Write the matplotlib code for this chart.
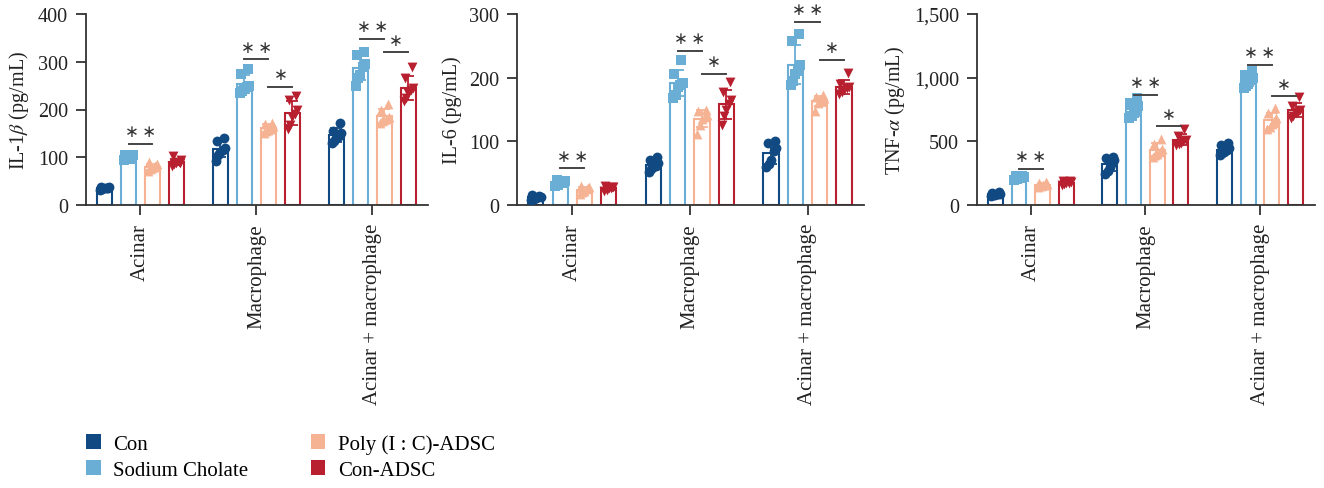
import numpy as np
import matplotlib
matplotlib.use("Agg")
import matplotlib.pyplot as plt
from matplotlib.patches import Patch
from matplotlib.ticker import FuncFormatter

plt.rcParams['font.family'] = ['Liberation Serif', 'DejaVu Sans']
plt.rcParams['mathtext.fontset'] = 'stix'

groups = ["Acinar", "Macrophage", "Acinar + macrophage"]
treatments = ["Con", "Sodium Cholate", "Poly (I : C)-ADSC", "Con-ADSC"]

# IL-1beta, points per group (rows: Acinar, Macrophage, Acinar + macrophage)
il1b_con = [[32, 34, 35, 36, 37, 38, 35],
            [93, 105, 112, 115, 120, 135, 140],
            [130, 135, 140, 145, 150, 155, 172]]
il1b_sc = [[95, 98, 100, 102, 104, 105, 97],
           [235, 238, 242, 248, 250, 275, 285],
           [250, 265, 272, 290, 295, 315, 320]]
il1b_poly = [[72, 75, 78, 82, 85, 90, 80],
             [150, 155, 158, 160, 165, 170, 172],
             [172, 175, 178, 180, 185, 200, 212]]
il1b_adsc = [[82, 85, 88, 90, 95, 103, 87],
             [160, 168, 185, 190, 200, 220, 228],
             [218, 225, 235, 240, 245, 265, 290]]

# IL-6
il6_con = [[8, 10, 11, 12, 13, 15, 14],
           [52, 56, 60, 62, 66, 70, 75],
           [60, 65, 70, 85, 90, 97, 101]]
il6_sc = [[30, 32, 34, 35, 37, 40, 38],
          [168, 172, 185, 188, 192, 205, 228],
          [188, 195, 205, 210, 220, 258, 268]]
il6_poly = [[18, 20, 22, 25, 28, 30, 27],
            [112, 125, 135, 138, 142, 148, 150],
            [148, 160, 163, 165, 168, 170, 172]]
il6_adsc = [[22, 24, 26, 27, 28, 30, 29],
            [125, 140, 150, 158, 165, 178, 193],
            [175, 178, 180, 183, 185, 190, 208]]

# TNF-alpha
tnf_con = [[70, 75, 80, 85, 90, 95, 100],
           [240, 265, 300, 330, 350, 370, 380],
           [390, 405, 420, 430, 445, 470, 490]]
tnf_sc = [[200, 205, 210, 215, 220, 225, 230],
          [680, 700, 720, 750, 780, 800, 840],
          [920, 935, 950, 980, 1000, 1020, 1050]]
tnf_poly = [[140, 150, 155, 160, 165, 170, 180],
            [380, 390, 400, 420, 440, 480, 520],
            [600, 610, 640, 660, 680, 720, 760]]
tnf_adsc = [[160, 165, 170, 175, 180, 185, 190],
            [470, 480, 490, 500, 510, 540, 600],
            [680, 700, 720, 730, 750, 780, 850]]

# significance: (group, left treatment, right treatment, line height, label)
il1b_sig = [(0, 1, 2, 128, "∗\u2009∗"), (1, 1, 2, 305, "∗\u2009∗"), (1, 2, 3, 248, "∗"),
            (2, 1, 2, 348, "∗\u2009∗"), (2, 2, 3, 320, "∗")]
il6_sig = [(0, 1, 2, 58, "∗\u2009∗"), (1, 1, 2, 242, "∗\u2009∗"), (1, 2, 3, 206, "∗"),
           (2, 1, 2, 288, "∗\u2009∗"), (2, 2, 3, 228, "∗")]
tnf_sig = [(0, 1, 2, 283, "∗\u2009∗"), (1, 1, 2, 864, "∗\u2009∗"), (1, 2, 3, 620, "∗"),
           (2, 1, 2, 1100, "∗\u2009∗"), (2, 2, 3, 856, "∗")]

colors = ['#114a82', '#6aaed6', '#f6b394', '#b81f2f']
markers = ['o', 's', '^', 'v']
offsets = [-0.31, -0.103, 0.103, 0.31]
jit = [-0.04, -0.018, 0.0, 0.022, 0.04, -0.03, 0.03]
bar_w = 0.13


def panel(ax, series, sig, ymax, ystep, ylabel, comma=False):
    for k, data in enumerate(series):
        for g in range(3):
            vals = np.array(data[g], dtype=float)
            x = g + offsets[k]
            m = vals.mean()
            sd = vals.std(ddof=1)
            ax.bar(x, m, width=bar_w, facecolor='white', edgecolor=colors[k],
                   linewidth=1.5, zorder=2)
            ax.errorbar(x, m, yerr=sd, color=colors[k], capsize=4, elinewidth=1.3,
                        capthick=1.3, zorder=3)
            ax.scatter(x + np.array(jit[:len(vals)]), vals, marker=markers[k], s=50,
                       color=colors[k], zorder=4, linewidths=0)
    for g, a, b, h, lab in sig:
        x1 = g + offsets[a]
        x2 = g + offsets[b]
        ax.plot([x1, x2], [h, h], color='#444444', lw=1.4, zorder=5)
        ax.annotate(lab, xy=((x1 + x2) / 2, h), xytext=(0, 9), textcoords='offset points',
                    ha='center', va='center', fontsize=12, color='#333333',
                    family=['DejaVu Sans'])
    ax.set_xlim(-0.47, 2.48)
    ax.set_ylim(0, ymax)
    ax.set_yticks(np.arange(0, ymax + 1, ystep))
    if comma:
        ax.yaxis.set_major_formatter(FuncFormatter(lambda v, p: f"{int(v):,}"))
    ax.set_xticks(range(3))
    ax.set_xticklabels(groups, rotation=90, fontsize=15)
    ax.tick_params(axis='y', labelsize=14.5, length=7, width=1.3, pad=6,
                   colors='#333333', labelcolor='#222222')
    ax.tick_params(axis='x', length=7, width=1.3, pad=6, colors='#333333',
                   labelcolor='#222222')
    ax.set_ylabel(ylabel, fontsize=14.5, color='#222222', labelpad=5)
    for s in ['top', 'right']:
        ax.spines[s].set_visible(False)
    for s in ['left', 'bottom']:
        ax.spines[s].set_linewidth(1.3)
        ax.spines[s].set_color('#333333')


fig = plt.figure(figsize=(13.24, 4.89), dpi=100)
ax1 = fig.add_axes([86 / 1324, 1 - 206 / 489, 342 / 1324, 191 / 489])
ax2 = fig.add_axes([517 / 1324, 1 - 206 / 489, 347 / 1324, 191 / 489])
ax3 = fig.add_axes([977 / 1324, 1 - 206 / 489, 338 / 1324, 191 / 489])

panel(ax1, [il1b_con, il1b_sc, il1b_poly, il1b_adsc], il1b_sig, 400, 100,
      r"IL-1$\beta$ (pg/mL)")
panel(ax2, [il6_con, il6_sc, il6_poly, il6_adsc], il6_sig, 300, 100,
      "IL-6 (pg/mL)")
panel(ax3, [tnf_con, tnf_sc, tnf_poly, tnf_adsc], tnf_sig, 1500, 500,
      r"TNF-$\alpha$ (pg/mL)", comma=True)

handles = [Patch(facecolor=c, edgecolor='none') for c in colors]
fig.legend(handles, treatments, loc='upper left', bbox_to_anchor=(86 / 1324, 1 - 435 / 489),
           ncol=2, frameon=False, fontsize=15, handlelength=0.7, handleheight=0.7,
           handletextpad=0.6, columnspacing=3.0, labelspacing=0.3, borderpad=0,
           borderaxespad=0)

fig.savefig("out.png", dpi=100)
